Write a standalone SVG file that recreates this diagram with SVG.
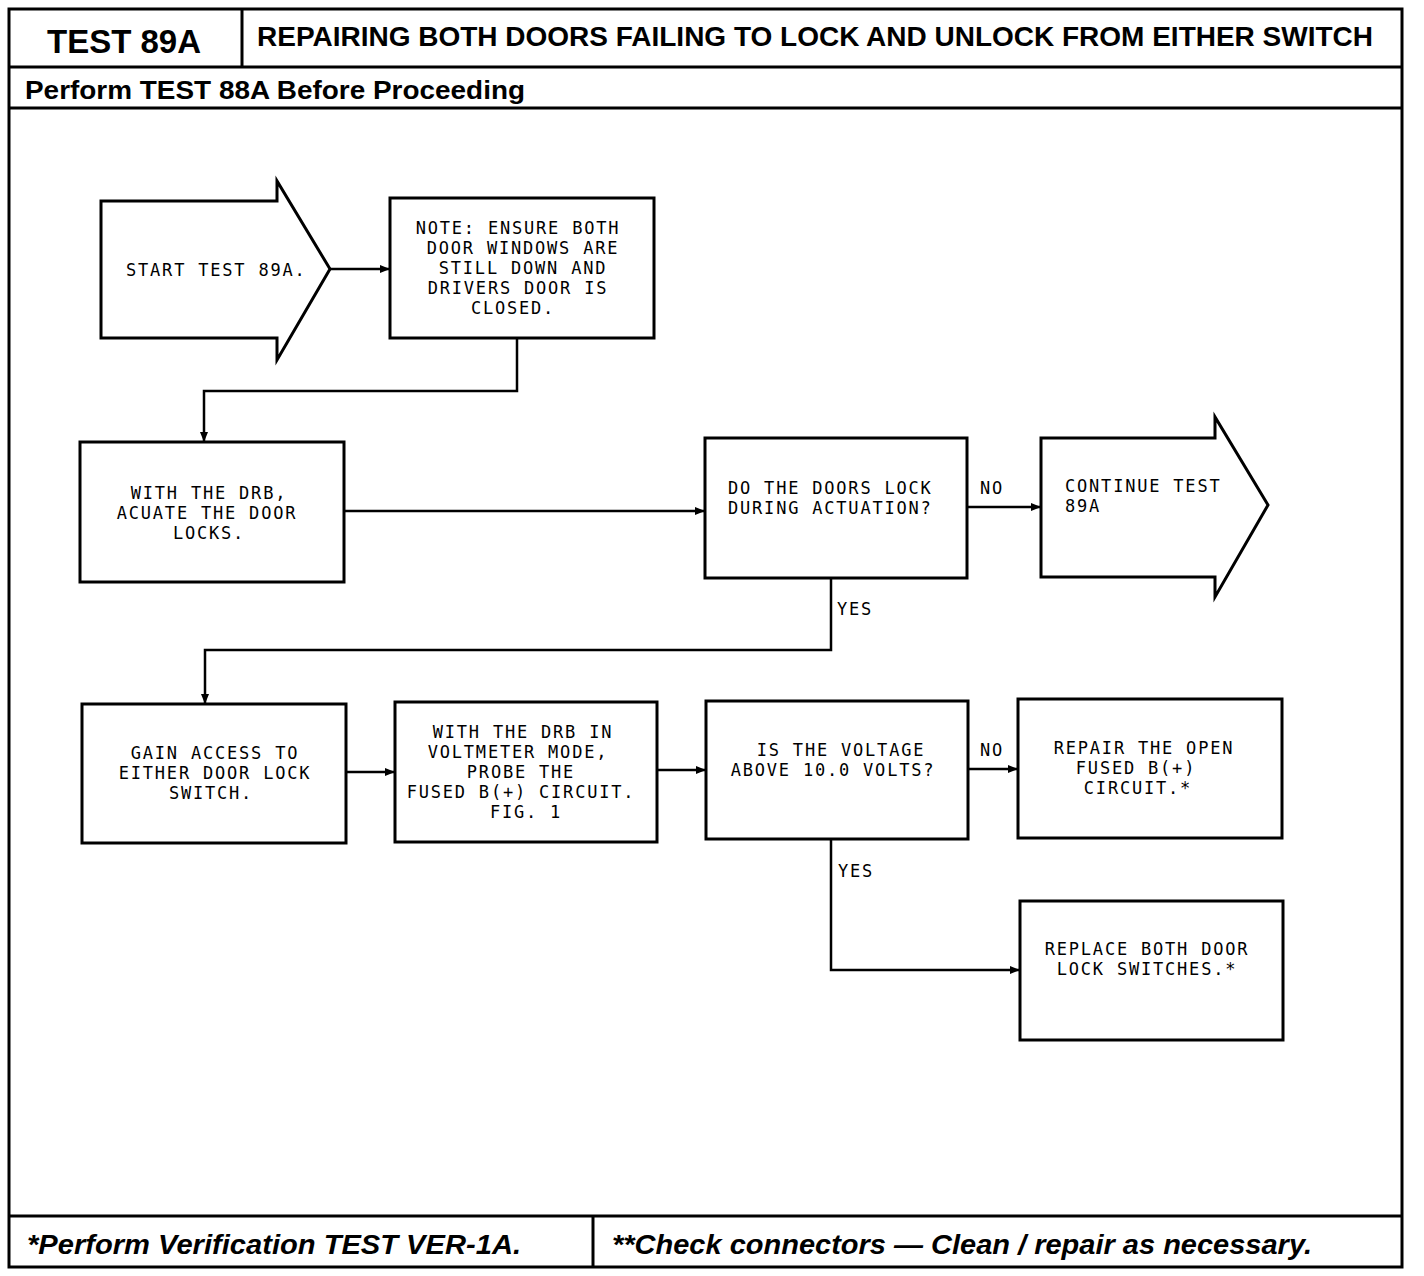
<svg xmlns="http://www.w3.org/2000/svg" width="1424" height="1276" viewBox="0 0 1424 1276">
<defs>
<style>
.frame{fill:none;stroke:#000;stroke-width:3}
.box{fill:#fff;stroke:#000;stroke-width:3}
.conn{fill:none;stroke:#000;stroke-width:2.5}
.t{font-family:"DejaVu Sans Mono","Liberation Mono",monospace;font-size:17px;letter-spacing:1.8px;fill:#000}
.c{text-anchor:middle}
.hd{font-family:"Liberation Sans",Arial,sans-serif;font-weight:bold;fill:#000}
.ft{font-family:"Liberation Sans",Arial,sans-serif;font-weight:bold;font-style:italic;fill:#000;font-size:27px}
</style>
<marker id="ah" viewBox="0 0 10 8" refX="10" refY="4" markerWidth="10" markerHeight="8" markerUnits="userSpaceOnUse" orient="auto">
<path d="M0,0 L10,4 L0,8 Z" fill="#000"/>
</marker>
</defs>
<rect width="1424" height="1276" fill="#fff"/>
<g id="frame">
<rect class="frame" x="9" y="9" width="1393" height="1258"/>
<line class="frame" x1="9" y1="67" x2="1402" y2="67"/>
<line class="frame" x1="242" y1="9" x2="242" y2="67"/>
<line class="frame" x1="9" y1="108" x2="1402" y2="108"/>
<line class="frame" x1="9" y1="1216" x2="1402" y2="1216"/>
<line class="frame" x1="593" y1="1216" x2="593" y2="1267"/>
<text class="hd" x="47" y="53" font-size="34" textLength="154" lengthAdjust="spacingAndGlyphs">TEST 89A</text>
<text class="hd" x="257" y="46" font-size="27" textLength="1116" lengthAdjust="spacingAndGlyphs">REPAIRING BOTH DOORS FAILING TO LOCK AND UNLOCK FROM EITHER SWITCH</text>
<text class="hd" x="25" y="99" font-size="26" textLength="500" lengthAdjust="spacingAndGlyphs">Perform TEST 88A Before Proceeding</text>
<text class="ft" x="27" y="1254" textLength="494" lengthAdjust="spacingAndGlyphs">*Perform Verification TEST VER-1A.</text>
<text class="ft" x="612" y="1254" textLength="700" lengthAdjust="spacingAndGlyphs">**Check connectors — Clean / repair as necessary.</text>
</g>
<g id="connectors">
<path class="conn" d="M330,269 H390" marker-end="url(#ah)"/>
<path class="conn" d="M517,338 V391 H204 V442" marker-end="url(#ah)"/>
<path class="conn" d="M344,511 H705" marker-end="url(#ah)"/>
<path class="conn" d="M967,507 H1041" marker-end="url(#ah)"/>
<path class="conn" d="M831,578 V650 H205 V704" marker-end="url(#ah)"/>
<path class="conn" d="M346,772 H395" marker-end="url(#ah)"/>
<path class="conn" d="M657,770 H706" marker-end="url(#ah)"/>
<path class="conn" d="M968,769 H1018" marker-end="url(#ah)"/>
<path class="conn" d="M831,839 V970 H1020" marker-end="url(#ah)"/>
<text class="t" x="980" y="494">NO</text>
<text class="t" x="837" y="615">YES</text>
<text class="t" x="980" y="756">NO</text>
<text class="t" x="838" y="877">YES</text>
</g>
<g id="start">
<path class="box" d="M101,201 H277 V181 L330,269 L277,360 V338 H101 Z"/>
<text class="t" x="126" y="276">START TEST 89A.</text>
</g>
<g id="note">
<rect class="box" x="390" y="198" width="264" height="140"/>
<text class="t c" x="518" y="234">NOTE: ENSURE BOTH</text>
<text class="t c" x="523" y="254">DOOR WINDOWS ARE</text>
<text class="t c" x="523" y="274">STILL DOWN AND</text>
<text class="t c" x="518" y="294">DRIVERS DOOR IS</text>
<text class="t c" x="513" y="314">CLOSED.</text>
</g>
<g id="actuate">
<rect class="box" x="80" y="442" width="264" height="140"/>
<text class="t c" x="209" y="499">WITH THE DRB,</text>
<text class="t c" x="207" y="519">ACUATE THE DOOR</text>
<text class="t c" x="209" y="539">LOCKS.</text>
</g>
<g id="q1">
<rect class="box" x="705" y="438" width="262" height="140"/>
<text class="t" x="728" y="494">DO THE DOORS LOCK</text>
<text class="t" x="728" y="514">DURING ACTUATION?</text>
</g>
<g id="continue">
<path class="box" d="M1041,438 H1215 V417 L1268,505 L1215,597 V577 H1041 Z"/>
<text class="t" x="1065" y="492">CONTINUE TEST</text>
<text class="t" x="1065" y="512">89A</text>
</g>
<g id="access">
<rect class="box" x="82" y="704" width="264" height="139"/>
<text class="t c" x="215" y="759">GAIN ACCESS TO</text>
<text class="t c" x="215" y="779">EITHER DOOR LOCK</text>
<text class="t c" x="211" y="799">SWITCH.</text>
</g>
<g id="probe">
<rect class="box" x="395" y="702" width="262" height="140"/>
<text class="t c" x="523" y="738">WITH THE DRB IN</text>
<text class="t c" x="518" y="758">VOLTMETER MODE,</text>
<text class="t c" x="521" y="778">PROBE THE</text>
<text class="t c" x="521" y="798">FUSED B(+) CIRCUIT.</text>
<text class="t c" x="526" y="818">FIG. 1</text>
</g>
<g id="q2">
<rect class="box" x="706" y="701" width="262" height="138"/>
<text class="t c" x="841" y="756">IS THE VOLTAGE</text>
<text class="t c" x="833" y="776">ABOVE 10.0 VOLTS?</text>
</g>
<g id="repair">
<rect class="box" x="1018" y="699" width="264" height="139"/>
<text class="t c" x="1144" y="754">REPAIR THE OPEN</text>
<text class="t c" x="1136" y="774">FUSED B(+)</text>
<text class="t c" x="1138" y="794">CIRCUIT.*</text>
</g>
<g id="replace">
<rect class="box" x="1020" y="901" width="263" height="139"/>
<text class="t c" x="1147" y="955">REPLACE BOTH DOOR</text>
<text class="t c" x="1147" y="975">LOCK SWITCHES.*</text>
</g>
</svg>
